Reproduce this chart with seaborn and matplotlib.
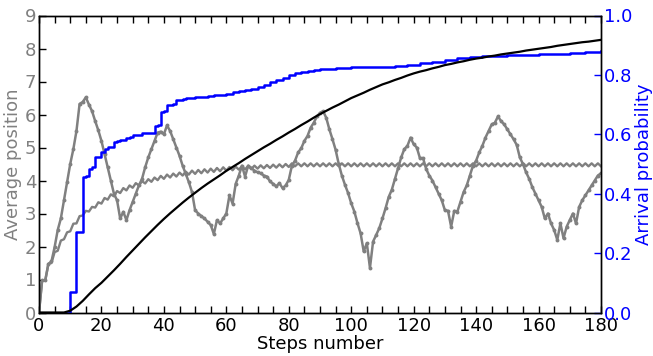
import matplotlib
matplotlib.use("Agg")
import matplotlib.pyplot as plt
import seaborn as sns
from matplotlib.ticker import MultipleLocator

# ---------------- data ----------------
steps = list(range(181))

# quantum walk average position (grey, dotted markers)
quantum_avg = [
    0, 0.97, 0.97, 1.47, 1.55, 1.98, 2.5, 2.85, 3.4, 3.95,
    4.5, 4.95, 5.5, 6.32, 6.38, 6.52, 6.3, 6.1, 5.8, 5.52,
    5.2, 4.8, 4.4, 4.0, 3.6, 3.4, 2.85, 3.05, 2.8, 3.1,
    3.35, 3.6, 3.85, 4.05, 4.4, 4.7, 4.95, 5.2, 5.45, 5.48,
    5.4, 5.67, 5.5, 5.25, 5.0, 4.75, 4.45, 4.2, 3.95, 3.65,
    3.1, 3.0, 2.92, 2.85, 2.75, 2.65, 2.38, 2.8, 2.7, 2.85,
    3.0, 3.55, 3.3, 3.9, 4.15, 4.45, 4.12, 4.45, 4.38, 4.3,
    4.25, 4.22, 4.15, 4.12, 3.97, 3.9, 3.82, 3.92, 3.77, 3.85,
    4.02, 4.45, 4.6, 4.85, 4.98, 5.2, 5.35, 5.6, 5.75, 5.94,
    6.05, 6.1, 5.9, 5.55, 5.25, 4.93, 4.5, 4.15, 3.87, 3.62,
    3.31, 3.06, 2.71, 2.4, 1.85, 2.1, 1.35, 2.15, 2.35, 2.56,
    2.85, 3.16, 3.5, 3.72, 4.05, 4.38, 4.7, 4.95, 5.05, 5.3,
    5.1, 5.0, 4.68, 4.68, 4.35, 4.15, 4.0, 3.8, 3.6, 3.4,
    3.1, 3.08, 2.6, 3.08, 3.06, 3.35, 3.65, 3.85, 4.15, 4.45,
    4.6, 4.85, 5.05, 5.3, 5.5, 5.7, 5.75, 5.94, 5.8, 5.7,
    5.55, 5.4, 5.25, 5.08, 4.7, 4.5, 4.25, 4.05, 3.8, 3.6,
    3.4, 3.2, 2.85, 3.0, 2.7, 2.5, 2.2, 2.7, 2.25, 2.6,
    2.8, 3.0, 2.7, 3.2, 3.4, 3.55, 3.7, 3.85, 4.0, 4.15,
    4.22,
]

# classical walk average position (grey zigzag)
classical_avg = [
    0, 0.97, 0.97, 1.47, 1.5, 1.83, 1.87, 2.18, 2.22, 2.43,
    2.46, 2.69, 2.7, 2.92, 2.94, 3.08, 3.06, 3.2, 3.18, 3.34,
    3.3, 3.47, 3.42, 3.58, 3.52, 3.68, 3.62, 3.77, 3.7, 3.85,
    3.78, 3.92, 3.85, 3.98, 3.91, 4.04, 3.96, 4.09, 4.01, 4.14,
    4.05, 4.18, 4.09, 4.21, 4.12, 4.24, 4.15, 4.27, 4.18, 4.3,
    4.2, 4.32, 4.22, 4.34, 4.24, 4.36, 4.26, 4.38, 4.28, 4.4,
    4.3, 4.41, 4.31, 4.42, 4.33, 4.43, 4.34, 4.44, 4.35, 4.45,
    4.36, 4.46, 4.37, 4.47, 4.38, 4.48, 4.39, 4.49, 4.4, 4.5,
    4.41, 4.52, 4.43, 4.52, 4.43, 4.52, 4.43, 4.52, 4.43, 4.52,
    4.43, 4.52, 4.43, 4.52, 4.43, 4.52, 4.43, 4.52, 4.43, 4.52,
    4.43, 4.52, 4.43, 4.52, 4.43, 4.52, 4.43, 4.52, 4.43, 4.52,
    4.43, 4.52, 4.43, 4.52, 4.43, 4.52, 4.43, 4.52, 4.43, 4.52,
    4.43, 4.52, 4.43, 4.52, 4.43, 4.52, 4.43, 4.52, 4.43, 4.52,
    4.43, 4.52, 4.43, 4.52, 4.43, 4.52, 4.43, 4.52, 4.43, 4.52,
    4.43, 4.52, 4.43, 4.52, 4.43, 4.52, 4.43, 4.52, 4.43, 4.52,
    4.43, 4.52, 4.43, 4.52, 4.43, 4.52, 4.43, 4.52, 4.43, 4.52,
    4.43, 4.52, 4.43, 4.52, 4.43, 4.52, 4.43, 4.52, 4.43, 4.52,
    4.43, 4.52, 4.43, 4.52, 4.43, 4.52, 4.43, 4.52, 4.43, 4.52,
    4.43,
]

# classical arrival probability (black), every 2 steps
classical_steps = list(range(0, 181, 2))
classical_prob = [
    0, 0, 0, 0, 0, 0.006, 0.02, 0.039, 0.061, 0.082,
    0.1, 0.121, 0.142, 0.164, 0.187, 0.209, 0.231, 0.253, 0.274, 0.295,
    0.315, 0.334, 0.352, 0.37, 0.387, 0.403, 0.419, 0.434, 0.448, 0.462,
    0.477, 0.49, 0.503, 0.517, 0.53, 0.543, 0.556, 0.568, 0.581, 0.593,
    0.606, 0.618, 0.631, 0.643, 0.656, 0.668, 0.679, 0.69, 0.7, 0.711,
    0.722, 0.731, 0.74, 0.75, 0.759, 0.768, 0.775, 0.783, 0.79, 0.798,
    0.805, 0.811, 0.816, 0.822, 0.827, 0.833, 0.837, 0.842, 0.846, 0.851,
    0.855, 0.858, 0.862, 0.865, 0.869, 0.872, 0.875, 0.878, 0.882, 0.885,
    0.888, 0.891, 0.894, 0.898, 0.901, 0.904, 0.907, 0.91, 0.912, 0.915,
    0.918,
]

# quantum arrival probability (blue), change points of a step curve
quantum_steps = [
    0, 10, 12, 14, 15, 16, 17, 18, 19, 20, 21, 22, 23, 24, 25, 26, 27, 28,
    29, 30, 32, 33, 37, 38, 39, 40, 41, 43, 44, 46, 47, 50, 54, 56, 58, 60,
    62, 64, 66, 68, 70, 72, 74, 76, 78, 80, 82, 84, 86, 88, 90, 92, 95, 98,
    100, 110, 114, 118, 122, 126, 130, 134, 138, 142, 146, 150, 155, 160,
    165, 170, 175, 180,
]
quantum_prob = [
    0, 0.069, 0.272, 0.456, 0.461, 0.483, 0.489, 0.522, 0.524, 0.54, 0.551,
    0.556, 0.558, 0.573, 0.576, 0.58, 0.582, 0.589, 0.592, 0.596, 0.599,
    0.603, 0.627, 0.63, 0.674, 0.678, 0.697, 0.702, 0.716, 0.72, 0.722,
    0.724, 0.728, 0.731, 0.733, 0.737, 0.744, 0.747, 0.75, 0.753, 0.758,
    0.767, 0.776, 0.784, 0.791, 0.798, 0.806, 0.811, 0.814, 0.817, 0.819,
    0.821, 0.823, 0.824, 0.826, 0.827, 0.829, 0.833, 0.839, 0.844, 0.85,
    0.856, 0.859, 0.862, 0.864, 0.866, 0.867, 0.869, 0.871, 0.873, 0.876,
    0.879,
]

x_ticks = [0, 20, 40, 60, 80, 100, 120, 140, 160, 180]
left_ticks = [0, 1, 2, 3, 4, 5, 6, 7, 8, 9]
right_ticks = [0.0, 0.2, 0.4, 0.6, 0.8, 1.0]

assert len(quantum_avg) == len(steps)
assert len(classical_avg) == len(steps)
assert len(classical_prob) == len(classical_steps)
assert len(quantum_prob) == len(quantum_steps)

# ---------------- plot ----------------
GREY = "#808080"
BLUE = "#0000ff"

plt.rcParams["font.family"] = ["DejaVu Sans"]
fig = plt.figure(figsize=(6.53, 3.56), dpi=100)
ax = fig.add_axes([39 / 653, 1 - 312.5 / 356, (601 - 39) / 653, (312.5 - 15.5) / 356])
ax2 = ax.twinx()

sns.lineplot(x=steps, y=quantum_avg, ax=ax, color=GREY, linewidth=1.8,
             marker="o", markersize=2.8, markeredgewidth=0,
             markerfacecolor=GREY, estimator=None, sort=False)
sns.lineplot(x=steps, y=classical_avg, ax=ax, color=GREY, linewidth=1.7,
             estimator=None, sort=False)

sns.lineplot(x=quantum_steps, y=quantum_prob, ax=ax2, color=BLUE,
             linewidth=1.8, drawstyle="steps-post", estimator=None, sort=False)
sns.lineplot(x=classical_steps, y=classical_prob, ax=ax2, color="black",
             linewidth=1.6, estimator=None, sort=False)

ax.set_xlim(0, 180)
ax.set_ylim(0, 9)
ax2.set_ylim(0, 1.0)

ax.set_xticks(x_ticks)
ax.xaxis.set_minor_locator(MultipleLocator(5))
ax.set_yticks(left_ticks)
ax2.set_yticks(right_ticks)
ax2.set_yticklabels([f"{v:.1f}" for v in right_ticks])

ax.tick_params(axis="x", which="both", direction="in", top=True, length=5,
               width=1, labelsize=13, pad=3, colors="black")
ax.tick_params(axis="y", which="both", direction="in", length=5, width=1,
               labelsize=13, pad=2, labelcolor=GREY, right=False)
ax2.tick_params(axis="y", which="both", direction="in", length=5, width=1,
                labelsize=13, pad=2, colors=BLUE)

ax.set_xlabel("Steps number", fontsize=13, labelpad=0)
ax.set_ylabel("Average position", fontsize=13, color=GREY, labelpad=2)
ax2.set_ylabel("Arrival probability", fontsize=13, color=BLUE, labelpad=2)

for a in (ax, ax2):
    for s in a.spines.values():
        s.set_linewidth(1.0)
        s.set_color("black")

fig.savefig("out.png", dpi=100)
